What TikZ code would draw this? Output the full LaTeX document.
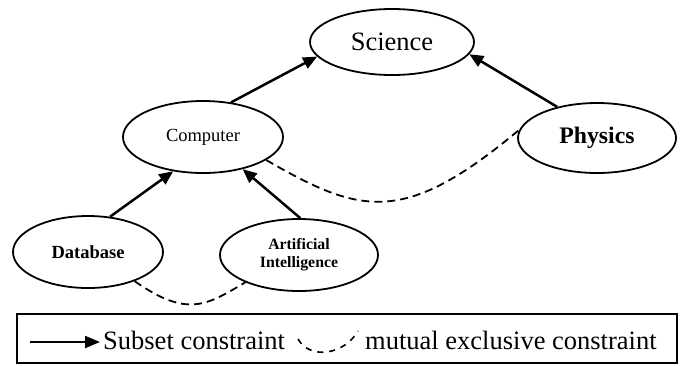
\documentclass[tikz,border=0pt]{standalone}
\usepackage{fontspec}
\setmainfont{Liberation Serif}
\usetikzlibrary{shapes.geometric,arrows.meta}
\begin{document}
\begin{tikzpicture}[x=1pt,y=-1pt,
  ell/.style={draw,ellipse,line width=1.8pt,inner sep=0pt},
  sub/.style={line width=2.5pt,-{Triangle[length=14pt,width=12pt]}},
  mex/.style={line width=1.8pt,dash pattern=on 8pt off 5pt},
  lbl/.style={inner sep=0pt,anchor=base west,font=\fontsize{26.5}{30}\selectfont}]
\useasboundingbox (0,0) rectangle (684,365);
\node[ell,minimum width=164pt,minimum height=66pt,font=\fontsize{26.5}{30}\selectfont] (sci) at (392,42) {Science};
\node[ell,minimum width=160pt,minimum height=72pt,font=\fontsize{18.5}{21}\selectfont] (cmp) at (203,137) {Computer};
\node[ell,minimum width=158pt,minimum height=70pt,font=\fontsize{23.7}{27}\selectfont\bfseries] (phy) at (597,138) {Physics};
\node[ell,minimum width=150pt,minimum height=72pt,font=\fontsize{18.5}{21}\selectfont\bfseries] (db) at (88,252) {Database};
\node[ell,minimum width=158pt,minimum height=72pt,align=center,font=\fontsize{15.8}{18}\selectfont\bfseries] (ai) at (299,255) {Artificial\\Intelligence};
\draw[sub] (cmp.51.5) -- (sci.191.5);
\draw[sub] (phy.142.7) -- (sci.-9.7);
\draw[sub] (db.58) -- (cmp.-131.5);
\draw[sub] (ai.88) -- (cmp.-39.5);
\draw[mex] (cmp.-20) .. controls +(95,55) and +(-115,96) .. (phy.174);
\draw[mex] (db.-32) .. controls +(53,37) and +(-39,23) .. (ai.207);
% legend
\draw[line width=1.8pt] (17,314) rectangle (677,363);
\coordinate (la1) at (30,342);
\coordinate (la2) at (100,342);
\draw[line width=2.2pt,-{Triangle[length=15pt,width=12pt]}] (la1) -- (la2);
\node[lbl] (t1) at (103,349) {Subset constraint};
\coordinate (lm1) at (298,339);
\coordinate (lm2) at (358,331);
\draw[line width=1.6pt,dash pattern=on 6pt off 6pt] (lm1) .. controls +(12,21) and +(-14,24) .. (lm2);
\node[lbl] (t2) at (365,349) {mutual exclusive constraint};
\end{tikzpicture}
\end{document}
